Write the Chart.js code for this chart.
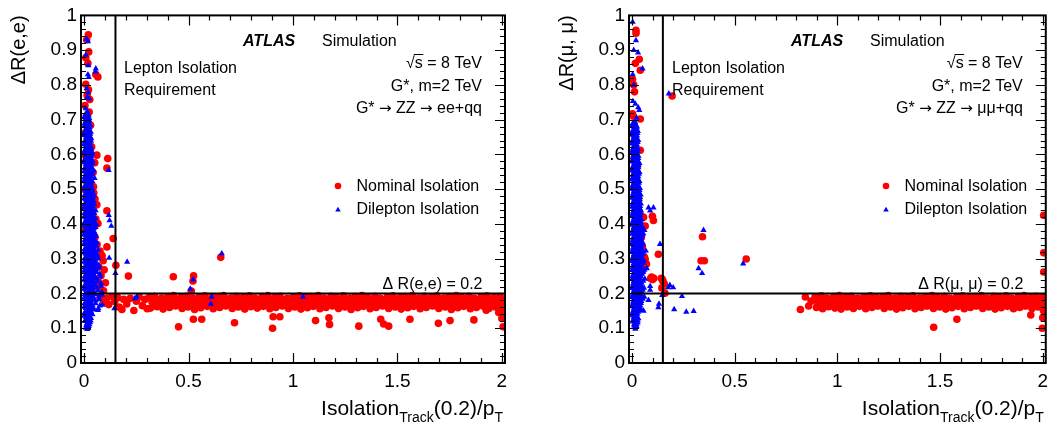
<!DOCTYPE html>
<html>
<head>
<meta charset="utf-8">
<script src="https://cdn.jsdelivr.net/npm/chart.js@4.4.1/dist/chart.umd.min.js"></script>
<style>
  html, body { margin: 0; padding: 0; background: #fff; }
  #wrap { position: relative; width: 1055px; height: 425px; overflow: hidden; }
  canvas { position: absolute; top: 0; }
  #cEE { left: 0; }
  #cMM { left: 529px; }
</style>
</head>
<body>
<div id="wrap">
  <canvas id="cEE" width="527" height="425"></canvas>
  <canvas id="cMM" width="526" height="425"></canvas>
</div>
<script>
// ---- axes ----
const xTicks = [0, 0.5, 1, 1.5, 2];
const yTicks = [0, 0.1, 0.2, 0.3, 0.4, 0.5, 0.6, 0.7, 0.8, 0.9, 1];
const xRange = [-0.015, 2.015];
const yRange = [0, 1];
const cutIso = 0.15;   // lepton isolation requirement
const cutDR = 0.2;     // delta R(l,l) = 0.2

// ---- ee channel: nominal isolation (red) ----
const eeNominal = [
  [0.020,0.944],[0.012,0.930],[0.022,0.895],[0.008,0.878],[0.018,0.862],[0.056,0.830],[0.066,0.823],
  [0.008,0.802],[0.021,0.786],[0.014,0.770],[0.027,0.758],[0.004,0.741],[0.024,0.722],[0.011,0.703],
  [0.031,0.684],[0.006,0.663],[0.021,0.641],[0.036,0.622],[0.061,0.598],[0.113,0.588],[0.051,0.576],
  [0.109,0.561],[0.043,0.548],[0.045,0.507],[0.046,0.490],[0.052,0.472],[0.061,0.455],[0.109,0.438],
  [0.041,0.431],[0.056,0.414],[0.066,0.401],[0.036,0.389],[0.139,0.358],[0.052,0.362],[0.062,0.341],
  [0.109,0.334],[0.076,0.322],[0.086,0.309],[0.046,0.301],[0.091,0.294],[0.152,0.281],[0.071,0.276],
  [0.096,0.268],[0.212,0.250],[0.081,0.252],[0.066,0.240],[0.102,0.231],[0.072,0.221],[0.093,0.208],
  [0.001,0.600],[0.000,0.500],[0.001,0.450],[0.000,0.380],[0.030,0.330],[0.040,0.270],[0.050,0.220],
  [0.427,0.248],[0.524,0.251],[0.521,0.236],[0.654,0.304],[0.513,0.207],
  [0.078,0.190],[0.094,0.176],[0.108,0.186],[0.118,0.168],[0.133,0.191],[0.146,0.177],[0.161,0.188],
  [0.168,0.161],[0.181,0.154],[0.190,0.183],[0.204,0.170],[0.221,0.186],[0.238,0.151],[0.250,0.178],
  [0.264,0.190],[0.279,0.165],[0.291,0.183],[0.302,0.156],
  [0.452,0.104],[0.523,0.126],[0.563,0.126],[0.720,0.116],[0.905,0.133],[0.902,0.100],[0.937,0.133],
  [1.108,0.122],[1.172,0.130],[1.175,0.111],[1.315,0.106],[1.420,0.126],[1.434,0.112],[1.458,0.106],
  [1.560,0.126],[1.696,0.114],[1.752,0.122],[1.866,0.124],[1.925,0.152],[2.000,0.128],[2.006,0.104],
  [2.006,0.185],[2.007,0.168],[2.004,0.152],[1.985,0.145]
];
const eeNominalBand = [
  [0.312,0.189],[0.338,0.192],[0.371,0.187],[0.402,0.191],[0.428,0.194],[0.463,0.188],[0.489,0.192],
  [0.522,0.186],[0.551,0.190],[0.579,0.193],[0.612,0.188],[0.641,0.191],[0.668,0.194],[0.703,0.187],
  [0.729,0.192],[0.762,0.189],[0.791,0.193],[0.818,0.187],[0.852,0.191],[0.879,0.194],[0.911,0.188],
  [0.938,0.192],[0.972,0.186],[1.001,0.190],[1.029,0.193],[1.062,0.188],[1.088,0.191],[1.121,0.194],
  [1.149,0.187],[1.182,0.192],[1.208,0.189],[1.241,0.193],[1.272,0.187],[1.298,0.191],[1.331,0.194],
  [1.359,0.188],[1.392,0.192],[1.418,0.186],[1.451,0.190],[1.479,0.193],[1.512,0.188],[1.538,0.191],
  [1.571,0.194],[1.602,0.187],[1.628,0.192],[1.661,0.189],[1.689,0.193],[1.722,0.187],[1.748,0.191],
  [1.781,0.194],[1.809,0.188],[1.842,0.192],[1.868,0.186],[1.901,0.190],[1.929,0.193],[1.962,0.188],
  [1.991,0.191],
  [0.325,0.176],[0.354,0.172],[0.386,0.179],[0.415,0.174],[0.446,0.171],[0.476,0.178],[0.505,0.173],
  [0.536,0.177],[0.565,0.170],[0.596,0.175],[0.625,0.179],[0.655,0.172],[0.686,0.176],[0.716,0.171],
  [0.745,0.178],[0.776,0.174],[0.805,0.170],[0.836,0.177],[0.865,0.173],[0.896,0.179],[0.925,0.172],
  [0.956,0.176],[0.985,0.171],[1.016,0.178],[1.045,0.174],[1.075,0.170],[1.106,0.177],[1.135,0.173],
  [1.166,0.179],[1.195,0.172],[1.226,0.176],[1.255,0.171],[1.285,0.178],[1.316,0.174],[1.345,0.170],
  [1.376,0.177],[1.405,0.173],[1.436,0.179],[1.465,0.172],[1.496,0.176],[1.525,0.171],[1.556,0.178],
  [1.585,0.174],[1.616,0.170],[1.645,0.177],[1.676,0.173],[1.705,0.179],[1.736,0.172],[1.765,0.176],
  [1.796,0.171],[1.825,0.178],[1.856,0.174],[1.885,0.170],[1.916,0.177],[1.945,0.173],[1.976,0.179],
  [2.004,0.175],
  [0.318,0.158],[0.349,0.162],[0.378,0.155],[0.409,0.160],[0.438,0.164],[0.469,0.157],[0.498,0.161],
  [0.529,0.154],[0.558,0.159],[0.589,0.163],[0.618,0.156],[0.649,0.160],[0.678,0.164],[0.709,0.157],
  [0.738,0.161],[0.769,0.155],[0.798,0.162],[0.829,0.158],[0.858,0.163],[0.889,0.156],[0.918,0.160],
  [0.949,0.164],[0.978,0.157],[1.009,0.161],[1.038,0.155],[1.069,0.159],[1.098,0.163],[1.129,0.156],
  [1.158,0.160],[1.189,0.164],[1.218,0.157],[1.249,0.161],[1.278,0.154],[1.309,0.159],[1.338,0.163],
  [1.369,0.156],[1.398,0.160],[1.429,0.164],[1.458,0.157],[1.489,0.161],[1.518,0.155],[1.549,0.159],
  [1.578,0.163],[1.609,0.156],[1.638,0.160],[1.669,0.164],[1.698,0.157],[1.729,0.161],[1.758,0.154],
  [1.789,0.159],[1.818,0.163],[1.849,0.156],[1.878,0.160],[1.909,0.164],[1.938,0.157],[1.969,0.161],
  [1.998,0.155]
];
const eeNominalBand2 = [
  [0.330,0.183],[0.361,0.181],[0.392,0.185],[0.421,0.182],[0.452,0.184],[0.481,0.181],[0.512,0.185],
  [0.543,0.182],[0.572,0.184],[0.603,0.181],[0.632,0.185],[0.662,0.182],[0.693,0.184],[0.722,0.181],
  [0.753,0.185],[0.783,0.182],[0.812,0.184],[0.843,0.181],[0.872,0.185],[0.902,0.182],[0.933,0.184],
  [0.962,0.181],[0.993,0.185],[1.023,0.182],[1.052,0.184],[1.083,0.181],[1.112,0.185],[1.142,0.182],
  [1.173,0.184],[1.202,0.181],[1.233,0.185],[1.263,0.182],[1.292,0.184],[1.323,0.181],[1.352,0.185],
  [1.382,0.182],[1.413,0.184],[1.442,0.181],[1.473,0.185],[1.503,0.182],[1.532,0.184],[1.563,0.181],
  [1.592,0.185],[1.622,0.182],[1.653,0.184],[1.682,0.181],[1.713,0.185],[1.743,0.182],[1.772,0.184],
  [1.803,0.181],[1.832,0.185],[1.862,0.182],[1.893,0.184],[1.922,0.181],[1.953,0.185],[1.983,0.182],
  [0.340,0.167],[0.369,0.165],[0.400,0.169],[0.431,0.166],[0.460,0.168],[0.491,0.165],[0.520,0.169],
  [0.550,0.166],[0.581,0.168],[0.610,0.165],[0.641,0.169],[0.671,0.166],[0.700,0.168],[0.731,0.165],
  [0.760,0.169],[0.790,0.166],[0.821,0.168],[0.850,0.165],[0.881,0.169],[0.911,0.166],[0.940,0.168],
  [0.971,0.165],[1.000,0.169],[1.030,0.166],[1.061,0.168],[1.090,0.165],[1.121,0.169],[1.151,0.166],
  [1.180,0.168],[1.211,0.165],[1.240,0.169],[1.270,0.166],[1.301,0.168],[1.330,0.165],[1.361,0.169],
  [1.391,0.166],[1.420,0.168],[1.451,0.165],[1.480,0.169],[1.510,0.166],[1.541,0.168],[1.570,0.165],
  [1.601,0.169],[1.631,0.166],[1.660,0.168],[1.691,0.165],[1.720,0.169],[1.750,0.166],[1.781,0.168],
  [1.810,0.165],[1.841,0.169],[1.871,0.166],[1.900,0.168],[1.931,0.165],[1.960,0.169],[1.990,0.166]
];

// ---- ee channel: dilepton isolation (blue) ----
const eeDilepton = [
  [0.012,0.932],[0.018,0.925],[0.008,0.886],[0.020,0.856],[0.056,0.847],[0.054,0.838],[0.018,0.830],
  [0.022,0.822],[0.012,0.790],[0.020,0.778],[0.015,0.765],[0.025,0.760],[0.008,0.732],[0.016,0.722],
  [0.022,0.712],[0.050,0.532],[0.117,0.555],[0.118,0.425],[0.122,0.410],[0.130,0.394],[0.120,0.302],
  [0.206,0.291],[0.150,0.258],[0.145,0.157],[0.066,0.152],[0.088,0.167],[0.252,0.190],[0.243,0.186],
  [0.522,0.240],[0.508,0.213],[0.659,0.315],[0.611,0.190],[0.606,0.170],[1.048,0.190]
];
const eeDileptonCore = [
  [0.006,0.716],[0.019,0.713],[0.012,0.701],[0.025,0.698],[0.003,0.689],[0.017,0.687],[0.030,0.684],
  [0.010,0.676],[0.023,0.673],[0.002,0.663],[0.015,0.661],[0.029,0.659],[0.009,0.650],[0.021,0.648],
  [0.034,0.646],[0.002,0.637],[0.014,0.636],[0.027,0.634],[0.008,0.624],[0.020,0.622],[0.033,0.621],
  [0.003,0.611],[0.015,0.609],[0.027,0.608],[0.039,0.606],[0.009,0.598],[0.021,0.596],[0.034,0.594],
  [0.002,0.585],[0.014,0.584],[0.026,0.582],[0.041,0.580],[0.008,0.572],[0.020,0.570],[0.032,0.569],
  [0.003,0.560],[0.015,0.558],[0.027,0.556],[0.045,0.555],[0.009,0.547],[0.021,0.545],[0.034,0.543],
  [0.002,0.534],[0.014,0.532],[0.026,0.531],[0.008,0.521],[0.020,0.519],[0.032,0.518],[0.003,0.508],
  [0.015,0.506],[0.027,0.505],[0.039,0.503],[0.009,0.495],[0.021,0.493],[0.033,0.492],[0.002,0.482],
  [0.014,0.480],[0.026,0.479],[0.042,0.477],[0.008,0.470],[0.020,0.468],[0.032,0.466],[0.046,0.465],
  [0.003,0.457],[0.015,0.455],[0.027,0.454],[0.040,0.452],[0.009,0.444],[0.021,0.442],[0.034,0.441],
  [0.055,0.439],[0.002,0.431],[0.014,0.430],[0.026,0.428],[0.038,0.426],[0.008,0.418],[0.020,0.417],
  [0.032,0.415],[0.046,0.413],[0.003,0.405],[0.015,0.404],[0.027,0.402],[0.040,0.400],[0.058,0.399],
  [0.009,0.392],[0.021,0.391],[0.034,0.389],[0.047,0.387],[0.002,0.379],[0.014,0.378],[0.026,0.376],
  [0.039,0.374],[0.052,0.373],[0.008,0.366],[0.020,0.365],[0.032,0.363],[0.045,0.361],[0.003,0.353],
  [0.015,0.352],[0.027,0.350],[0.040,0.348],[0.060,0.347],[0.009,0.340],[0.021,0.339],[0.034,0.337],
  [0.047,0.335],[0.002,0.327],[0.014,0.326],[0.026,0.324],[0.039,0.322],[0.055,0.321],[0.008,0.314],
  [0.020,0.313],[0.032,0.311],[0.045,0.309],[0.065,0.308],[0.003,0.301],[0.015,0.300],[0.027,0.298],
  [0.040,0.296],[0.053,0.295],[0.009,0.288],[0.021,0.287],[0.034,0.285],[0.047,0.283],[0.070,0.282],
  [0.002,0.275],[0.014,0.274],[0.026,0.272],[0.039,0.270],[0.058,0.269],[0.008,0.262],[0.020,0.261],
  [0.032,0.259],[0.045,0.257],[0.075,0.256],[0.003,0.249],[0.015,0.248],[0.027,0.246],[0.040,0.244],
  [0.060,0.243],[0.009,0.236],[0.021,0.235],[0.034,0.233],[0.050,0.231],[0.080,0.230],[0.002,0.223],
  [0.014,0.222],[0.026,0.220],[0.039,0.218],[0.062,0.217],[0.008,0.210],[0.020,0.209],[0.032,0.207],
  [0.048,0.205],[0.085,0.204],[0.003,0.197],[0.015,0.196],[0.027,0.194],[0.042,0.192],[0.070,0.191],
  [0.009,0.184],[0.021,0.183],[0.034,0.181],[0.055,0.179],[0.002,0.171],[0.014,0.170],[0.026,0.168],
  [0.040,0.166],[0.075,0.165],[0.008,0.158],[0.020,0.157],[0.032,0.155],[0.050,0.153],[0.003,0.145],
  [0.015,0.144],[0.027,0.142],[0.040,0.140],[0.009,0.132],[0.021,0.131],[0.033,0.129],[0.005,0.120],
  [0.017,0.118],[0.028,0.117],[0.010,0.108],[0.022,0.106],[0.015,0.097]
];
const eeDileptonFill = [
  [0.000,0.707],[0.013,0.706],[0.024,0.704],[0.006,0.694],[0.020,0.692],[0.000,0.681],[0.012,0.680],
  [0.025,0.678],[0.006,0.668],[0.020,0.667],[0.032,0.665],[0.000,0.655],[0.013,0.654],[0.027,0.652],
  [0.006,0.642],[0.020,0.641],[0.033,0.639],[0.000,0.629],[0.013,0.628],[0.026,0.627],[0.006,0.616],
  [0.020,0.615],[0.034,0.614],[0.000,0.603],[0.013,0.602],[0.027,0.601],[0.040,0.600],[0.006,0.590],
  [0.020,0.589],[0.034,0.588],[0.000,0.577],[0.013,0.576],[0.027,0.575],[0.040,0.574],[0.006,0.564],
  [0.020,0.563],[0.034,0.562],[0.000,0.551],[0.013,0.550],[0.027,0.549],[0.040,0.548],[0.006,0.538],
  [0.020,0.537],[0.034,0.536],[0.000,0.525],[0.013,0.524],[0.027,0.523],[0.040,0.522],[0.006,0.512],
  [0.020,0.511],[0.034,0.510],[0.000,0.499],[0.013,0.498],[0.027,0.497],[0.040,0.496],[0.006,0.486],
  [0.020,0.485],[0.034,0.484],[0.048,0.483],[0.000,0.473],[0.013,0.472],[0.027,0.471],[0.040,0.470],
  [0.006,0.460],[0.020,0.459],[0.034,0.458],[0.048,0.457],[0.000,0.447],[0.013,0.446],[0.027,0.445],
  [0.041,0.444],[0.006,0.434],[0.020,0.433],[0.034,0.432],[0.048,0.431],[0.000,0.421],[0.013,0.420],
  [0.027,0.419],[0.041,0.418],[0.053,0.417],[0.006,0.408],[0.020,0.407],[0.034,0.406],[0.048,0.405],
  [0.000,0.395],[0.013,0.394],[0.027,0.393],[0.041,0.392],[0.055,0.391],[0.006,0.382],[0.020,0.381],
  [0.034,0.380],[0.047,0.379],[0.000,0.369],[0.013,0.368],[0.027,0.367],[0.041,0.366],[0.056,0.365],
  [0.006,0.356],[0.020,0.355],[0.034,0.354],[0.048,0.353],[0.000,0.343],[0.013,0.342],[0.027,0.341],
  [0.041,0.340],[0.058,0.339],[0.006,0.330],[0.020,0.329],[0.034,0.328],[0.048,0.327],[0.066,0.326],
  [0.000,0.317],[0.013,0.316],[0.027,0.315],[0.041,0.314],[0.056,0.313],[0.006,0.304],[0.020,0.303],
  [0.034,0.302],[0.048,0.301],[0.068,0.300],[0.000,0.291],[0.013,0.290],[0.027,0.289],[0.041,0.288],
  [0.058,0.287],[0.006,0.278],[0.020,0.277],[0.034,0.276],[0.048,0.275],[0.072,0.274],[0.000,0.265],
  [0.013,0.264],[0.027,0.263],[0.041,0.262],[0.060,0.261],[0.006,0.252],[0.020,0.251],[0.034,0.250],
  [0.050,0.249],[0.078,0.248],[0.000,0.239],[0.013,0.238],[0.027,0.237],[0.041,0.236],[0.064,0.235],
  [0.006,0.226],[0.020,0.225],[0.034,0.224],[0.050,0.223],[0.082,0.222],[0.000,0.213],[0.013,0.212],
  [0.027,0.211],[0.041,0.210],[0.066,0.209],[0.006,0.200],[0.020,0.199],[0.034,0.198],[0.055,0.197],
  [0.086,0.196],[0.000,0.187],[0.013,0.186],[0.027,0.185],[0.045,0.184],[0.072,0.183],[0.006,0.174],
  [0.020,0.173],[0.034,0.172],[0.055,0.171],[0.000,0.161],[0.013,0.160],[0.027,0.159],[0.042,0.158],
  [0.068,0.157],[0.006,0.148],[0.020,0.147],[0.034,0.146],[0.000,0.135],[0.013,0.134],[0.027,0.133],
  [0.006,0.124],[0.020,0.123],[0.031,0.122],[0.012,0.112],[0.025,0.111],[0.008,0.101],[0.020,0.100]
];

// ---- mumu channel: nominal isolation (red) ----
const mmNominal = [
  [0.019,0.957],[0.019,0.949],[0.035,0.874],[0.016,0.862],[0.040,0.842],[0.002,0.816],[0.008,0.800],
  [0.012,0.780],[0.002,0.717],[0.006,0.710],[0.040,0.702],[0.004,0.660],[0.040,0.612],[0.010,0.590],
  [0.025,0.564],[0.012,0.540],[0.020,0.500],[0.051,0.420],[0.099,0.422],[0.056,0.419],[0.104,0.410],
  [0.064,0.394],[0.032,0.468],[0.040,0.349],[0.050,0.336],[0.045,0.362],[0.128,0.313],[0.064,0.298],
  [0.070,0.285],[0.060,0.305],[0.095,0.247],[0.100,0.240],[0.106,0.244],[0.090,0.243],[0.142,0.244],
  [0.150,0.236],[0.157,0.228],[0.145,0.216],[0.160,0.201],[0.148,0.240],[0.343,0.363],[0.336,0.294],
  [0.352,0.294],[0.556,0.299],[0.195,0.768],[0.045,0.260],[0.055,0.280],
  [0.820,0.154],[0.844,0.190],[0.860,0.164],[0.872,0.178],
  [1.469,0.103],[1.582,0.126],[1.942,0.138],[1.998,0.100],[2.005,0.425],[2.005,0.317],[2.005,0.262],
  [2.004,0.150],[2.000,0.130]
];
const mmNominalBand = [
  [0.891,0.190],[0.921,0.193],[0.948,0.187],[0.981,0.191],[1.009,0.194],[1.041,0.188],[1.068,0.192],
  [1.101,0.186],[1.129,0.190],[1.161,0.193],[1.189,0.188],[1.221,0.191],[1.248,0.194],[1.281,0.187],
  [1.309,0.192],[1.341,0.189],[1.368,0.193],[1.401,0.187],[1.429,0.191],[1.461,0.194],[1.489,0.188],
  [1.521,0.192],[1.548,0.186],[1.581,0.190],[1.609,0.193],[1.641,0.188],[1.668,0.191],[1.701,0.194],
  [1.729,0.187],[1.761,0.192],[1.789,0.189],[1.821,0.193],[1.848,0.187],[1.881,0.191],[1.909,0.194],
  [1.941,0.188],[1.968,0.192],[1.999,0.189],
  [0.905,0.175],[0.935,0.171],[0.965,0.178],[0.995,0.173],[1.025,0.177],[1.055,0.170],[1.085,0.176],
  [1.115,0.179],[1.145,0.172],[1.175,0.176],[1.205,0.171],[1.235,0.178],[1.265,0.174],[1.295,0.170],
  [1.325,0.177],[1.355,0.173],[1.385,0.179],[1.415,0.172],[1.445,0.176],[1.475,0.171],[1.505,0.178],
  [1.535,0.174],[1.565,0.170],[1.595,0.177],[1.625,0.173],[1.655,0.179],[1.685,0.172],[1.715,0.176],
  [1.745,0.171],[1.775,0.178],[1.805,0.174],[1.835,0.170],[1.865,0.177],[1.895,0.173],[1.925,0.179],
  [1.955,0.172],[1.985,0.176],[2.007,0.171],
  [0.898,0.160],[0.928,0.156],[0.958,0.162],[0.988,0.158],[1.018,0.155],[1.048,0.161],[1.078,0.157],
  [1.108,0.163],[1.138,0.156],[1.168,0.160],[1.198,0.164],[1.228,0.157],[1.258,0.161],[1.288,0.155],
  [1.318,0.159],[1.348,0.163],[1.378,0.156],[1.408,0.160],[1.438,0.164],[1.468,0.157],[1.498,0.161],
  [1.528,0.155],[1.558,0.159],[1.588,0.163],[1.618,0.156],[1.648,0.160],[1.678,0.164],[1.708,0.157],
  [1.738,0.161],[1.768,0.155],[1.798,0.159],[1.828,0.163],[1.858,0.156],[1.888,0.160],[1.918,0.164],
  [1.948,0.157],[1.978,0.161],[2.004,0.156]
];
const mmNominalBand2 = [
  [0.913,0.183],[0.942,0.181],[0.973,0.185],[1.003,0.182],[1.032,0.184],[1.063,0.181],[1.092,0.185],
  [1.122,0.182],[1.153,0.184],[1.182,0.181],[1.213,0.185],[1.243,0.182],[1.272,0.184],[1.303,0.181],
  [1.332,0.185],[1.362,0.182],[1.393,0.184],[1.422,0.181],[1.453,0.185],[1.483,0.182],[1.512,0.184],
  [1.543,0.181],[1.572,0.185],[1.602,0.182],[1.633,0.184],[1.662,0.181],[1.693,0.185],[1.723,0.182],
  [1.752,0.184],[1.783,0.181],[1.812,0.185],[1.842,0.182],[1.873,0.184],[1.902,0.181],[1.933,0.185],
  [1.963,0.182],[1.992,0.184],
  [0.920,0.167],[0.951,0.165],[0.980,0.169],[1.010,0.166],[1.041,0.168],[1.070,0.165],[1.101,0.169],
  [1.131,0.166],[1.160,0.168],[1.191,0.165],[1.220,0.169],[1.250,0.166],[1.281,0.168],[1.310,0.165],
  [1.341,0.169],[1.371,0.166],[1.400,0.168],[1.431,0.165],[1.460,0.169],[1.490,0.166],[1.521,0.168],
  [1.550,0.165],[1.581,0.169],[1.611,0.166],[1.640,0.168],[1.671,0.165],[1.700,0.169],[1.730,0.166],
  [1.761,0.168],[1.790,0.165],[1.821,0.169],[1.851,0.166],[1.880,0.168],[1.911,0.165],[1.940,0.169],
  [1.970,0.166],[2.001,0.168]
];

// ---- mumu channel: dilepton isolation (blue) ----
const mmDilepton = [
  [0.003,0.981],[0.019,0.928],[0.008,0.900],[0.029,0.893],[0.051,0.847],[0.003,0.830],[0.008,0.800],
  [0.004,0.753],[0.016,0.745],[0.035,0.727],[0.015,0.693],[0.030,0.735],[0.022,0.705],[0.179,0.775],
  [0.080,0.447],[0.104,0.447],[0.088,0.438],[0.348,0.382],[0.136,0.342],[0.067,0.323],[0.324,0.272],
  [0.341,0.258],[0.541,0.286],[0.072,0.272],[0.184,0.224],[0.200,0.217],[0.176,0.217],[0.243,0.192],
  [0.205,0.154],[0.264,0.147],[0.300,0.149],[0.131,0.170],[0.128,0.160],[0.080,0.181],[0.056,0.150],
  [0.088,0.210],[0.147,0.195],[0.088,0.221],[0.060,0.382]
];
const mmDileptonCore = [
  [0.004,0.690],[0.016,0.688],[0.009,0.677],[0.022,0.675],[0.002,0.664],[0.014,0.662],[0.026,0.661],
  [0.008,0.651],[0.020,0.649],[0.003,0.638],[0.015,0.636],[0.027,0.635],[0.009,0.625],[0.021,0.623],
  [0.002,0.612],[0.014,0.610],[0.026,0.609],[0.008,0.599],[0.020,0.597],[0.031,0.596],[0.003,0.586],
  [0.015,0.584],[0.027,0.583],[0.009,0.573],[0.021,0.571],[0.032,0.570],[0.002,0.560],[0.014,0.558],
  [0.026,0.557],[0.008,0.547],[0.020,0.545],[0.033,0.544],[0.003,0.534],[0.015,0.532],[0.027,0.531],
  [0.009,0.521],[0.021,0.519],[0.033,0.518],[0.002,0.508],[0.014,0.506],[0.026,0.505],[0.038,0.503],
  [0.008,0.495],[0.020,0.493],[0.032,0.492],[0.003,0.482],[0.015,0.480],[0.027,0.479],[0.039,0.477],
  [0.009,0.469],[0.021,0.467],[0.033,0.466],[0.002,0.456],[0.014,0.454],[0.026,0.453],[0.039,0.451],
  [0.008,0.443],[0.020,0.441],[0.032,0.440],[0.044,0.438],[0.003,0.430],[0.015,0.428],[0.027,0.427],
  [0.040,0.425],[0.009,0.417],[0.021,0.415],[0.033,0.414],[0.046,0.412],[0.002,0.404],[0.014,0.402],
  [0.026,0.401],[0.039,0.399],[0.008,0.391],[0.020,0.389],[0.032,0.388],[0.045,0.386],[0.003,0.378],
  [0.015,0.376],[0.027,0.375],[0.040,0.373],[0.055,0.372],[0.009,0.365],[0.021,0.363],[0.033,0.362],
  [0.046,0.360],[0.002,0.352],[0.014,0.350],[0.026,0.349],[0.039,0.347],[0.052,0.346],[0.008,0.339],
  [0.020,0.337],[0.032,0.336],[0.045,0.334],[0.003,0.326],[0.015,0.324],[0.027,0.323],[0.040,0.321],
  [0.056,0.320],[0.009,0.313],[0.021,0.311],[0.033,0.310],[0.046,0.308],[0.002,0.300],[0.014,0.298],
  [0.026,0.297],[0.039,0.295],[0.058,0.294],[0.008,0.287],[0.020,0.285],[0.032,0.284],[0.045,0.282],
  [0.003,0.274],[0.015,0.272],[0.027,0.271],[0.040,0.269],[0.060,0.268],[0.009,0.261],[0.021,0.259],
  [0.033,0.258],[0.047,0.256],[0.002,0.248],[0.014,0.246],[0.026,0.245],[0.039,0.243],[0.062,0.242],
  [0.008,0.235],[0.020,0.233],[0.032,0.232],[0.046,0.230],[0.003,0.222],[0.015,0.220],[0.027,0.219],
  [0.040,0.217],[0.058,0.216],[0.009,0.209],[0.021,0.207],[0.033,0.206],[0.048,0.204],[0.002,0.196],
  [0.014,0.194],[0.026,0.193],[0.040,0.191],[0.060,0.190],[0.008,0.183],[0.020,0.181],[0.032,0.180],
  [0.045,0.178],[0.003,0.170],[0.015,0.168],[0.027,0.167],[0.040,0.165],[0.009,0.157],[0.021,0.155],
  [0.033,0.154],[0.046,0.152],[0.002,0.144],[0.014,0.142],[0.026,0.141],[0.008,0.131],[0.020,0.129],
  [0.031,0.128],[0.004,0.119],[0.016,0.117],[0.027,0.116],[0.010,0.107],[0.022,0.105],[0.016,0.098]
];
const mmDileptonFill = [
  [0.000,0.683],[0.012,0.682],[0.024,0.680],[0.005,0.670],[0.018,0.669],[0.028,0.667],[0.000,0.657],
  [0.012,0.656],[0.024,0.654],[0.005,0.644],[0.018,0.643],[0.030,0.641],[0.000,0.631],[0.012,0.630],
  [0.024,0.628],[0.005,0.618],[0.018,0.617],[0.030,0.615],[0.000,0.605],[0.012,0.604],[0.024,0.602],
  [0.005,0.592],[0.018,0.591],[0.030,0.589],[0.000,0.579],[0.012,0.578],[0.024,0.576],[0.036,0.575],
  [0.005,0.566],[0.018,0.565],[0.030,0.563],[0.000,0.553],[0.012,0.552],[0.024,0.550],[0.036,0.549],
  [0.005,0.540],[0.018,0.539],[0.030,0.537],[0.000,0.527],[0.012,0.526],[0.024,0.524],[0.036,0.523],
  [0.005,0.514],[0.018,0.513],[0.030,0.511],[0.000,0.501],[0.012,0.500],[0.024,0.498],[0.036,0.497],
  [0.005,0.488],[0.018,0.487],[0.030,0.485],[0.042,0.484],[0.000,0.475],[0.012,0.474],[0.024,0.472],
  [0.036,0.471],[0.005,0.462],[0.018,0.461],[0.030,0.459],[0.043,0.458],[0.000,0.449],[0.012,0.448],
  [0.024,0.446],[0.037,0.445],[0.005,0.436],[0.018,0.435],[0.030,0.433],[0.043,0.432],[0.000,0.423],
  [0.012,0.422],[0.024,0.420],[0.037,0.419],[0.005,0.410],[0.018,0.409],[0.030,0.407],[0.043,0.406],
  [0.000,0.397],[0.012,0.396],[0.024,0.394],[0.037,0.393],[0.050,0.392],[0.005,0.384],[0.018,0.383],
  [0.030,0.381],[0.043,0.380],[0.000,0.371],[0.012,0.370],[0.024,0.368],[0.037,0.367],[0.050,0.366],
  [0.005,0.358],[0.018,0.357],[0.030,0.355],[0.043,0.354],[0.000,0.345],[0.012,0.344],[0.024,0.342],
  [0.037,0.341],[0.052,0.340],[0.005,0.332],[0.018,0.331],[0.030,0.329],[0.043,0.328],[0.000,0.319],
  [0.012,0.318],[0.024,0.316],[0.037,0.315],[0.052,0.314],[0.005,0.306],[0.018,0.305],[0.030,0.303],
  [0.043,0.302],[0.000,0.293],[0.012,0.292],[0.024,0.290],[0.037,0.289],[0.054,0.288],[0.005,0.280],
  [0.018,0.279],[0.030,0.277],[0.043,0.276],[0.000,0.267],[0.012,0.266],[0.024,0.264],[0.037,0.263],
  [0.055,0.262],[0.005,0.254],[0.018,0.253],[0.030,0.251],[0.043,0.250],[0.000,0.241],[0.012,0.240],
  [0.024,0.238],[0.037,0.237],[0.054,0.236],[0.005,0.228],[0.018,0.227],[0.030,0.225],[0.043,0.224],
  [0.000,0.215],[0.012,0.214],[0.024,0.212],[0.037,0.211],[0.052,0.210],[0.005,0.202],[0.018,0.201],
  [0.030,0.199],[0.043,0.198],[0.000,0.189],[0.012,0.188],[0.024,0.186],[0.037,0.185],[0.052,0.184],
  [0.005,0.176],[0.018,0.175],[0.030,0.173],[0.043,0.172],[0.000,0.163],[0.012,0.162],[0.024,0.160],
  [0.037,0.159],[0.005,0.150],[0.018,0.149],[0.030,0.147],[0.000,0.137],[0.012,0.136],[0.024,0.134],
  [0.005,0.124],[0.018,0.123],[0.028,0.122],[0.010,0.112],[0.022,0.111],[0.012,0.102]
];

const FONT = '"Liberation Sans", Arial, Helvetica, sans-serif';
const ARROW_FONT = '"DejaVu Sans", sans-serif';
const RED = '#ff0000';
const BLUE = '#0000ff';

function drawTriangle(ctx, x, y, r) {
  ctx.beginPath();
  ctx.moveTo(x, y - r);
  ctx.lineTo(x + r * 0.866, y + r * 0.5);
  ctx.lineTo(x - r * 0.866, y + r * 0.5);
  ctx.closePath();
  ctx.fill();
}

// text made of pieces in different fonts, right aligned at xr
function richRight(ctx, segs, xr, y) {
  let w = 0;
  segs.forEach(s => { ctx.font = s[1]; w += ctx.measureText(s[0]).width; });
  let x = xr - w;
  ctx.textAlign = 'left';
  segs.forEach(s => { ctx.font = s[1]; ctx.fillText(s[0], x, y + (s[2] || 0)); x += ctx.measureText(s[0]).width; });
}

// ROOT-like frame, inner ticks and all the text of a panel
const rootFrame = {
  id: 'rootFrame',
  afterDraw(chart, args, o) {
    const { ctx, chartArea: a } = chart;
    const xs = chart.scales.x, ys = chart.scales.y;
    ctx.save();
    ctx.strokeStyle = '#000';
    ctx.fillStyle = '#000';

    // ticks, inside on all four sides
    ctx.lineWidth = 1.2;
    ctx.beginPath();
    for (let i = 0; i <= 20; i++) {
      const px = Math.round(xs.getPixelForValue(i / 10)) + 0.5;
      const len = i % 5 === 0 ? 10 : 5;
      ctx.moveTo(px, a.bottom); ctx.lineTo(px, a.bottom - len);
      ctx.moveTo(px, a.top); ctx.lineTo(px, a.top + len);
    }
    for (let i = 0; i <= 50; i++) {
      const py = Math.round(ys.getPixelForValue(i / 50)) + 0.5;
      const len = i % 5 === 0 ? 10 : 5;
      ctx.moveTo(a.left, py); ctx.lineTo(a.left + len, py);
      ctx.moveTo(a.right, py); ctx.lineTo(a.right - len, py);
    }
    ctx.stroke();

    ctx.lineWidth = 2;
    ctx.strokeRect(a.left, a.top, a.right - a.left, a.bottom - a.top);

    ctx.textBaseline = 'alphabetic';

    // y title, rotated
    ctx.save();
    ctx.translate(a.left - 56, a.top);
    ctx.rotate(-Math.PI / 2);
    ctx.font = '20px ' + FONT;
    ctx.textAlign = 'right';
    ctx.fillText(o.yTitle, 0, 0);
    ctx.restore();

    // x title: Isolation_{Track}(0.2)/p_{T}
    const big = '21px ' + FONT, small = '14px ' + FONT;
    richRight(ctx, [['Isolation', big], ['Track', small, 6.5], ['(0.2)/p', big], ['T', small, 6.5]], a.right - 2, 415);

    // annotations
    const f16 = '16px ' + FONT;
    ctx.textAlign = 'left';
    ctx.font = f16;
    ctx.fillText('Lepton Isolation', a.left + 43, 73);
    ctx.fillText('Requirement', a.left + 43, 94.5);
    ctx.font = 'italic bold 16px ' + FONT;
    ctx.fillText('ATLAS', a.left + 162, 46);
    ctx.font = f16;
    ctx.fillText('Simulation', a.left + 241, 46);

    const rx = a.right - 23;
    ctx.textAlign = 'right';
    ctx.fillText('\u221As = 8 TeV', rx, 67.5);
    const wAll = ctx.measureText('\u221As = 8 TeV').width;
    const wRoot = ctx.measureText('\u221A').width;
    const wS = ctx.measureText('s').width;
    ctx.lineWidth = 1;
    ctx.beginPath();
    ctx.moveTo(rx - wAll + wRoot - 1, 54.5);
    ctx.lineTo(rx - wAll + wRoot + wS + 0.5, 54.5);
    ctx.stroke();
    ctx.fillText('G*, m=2 TeV', rx, 90.5);
    const arrow = '15px ' + ARROW_FONT;
    richRight(ctx, [['G* ', f16], ['\u2192', arrow], [' ZZ ', f16], ['\u2192', arrow], [' ' + o.channel, f16]], rx, 113);
    ctx.font = f16;
    ctx.textAlign = 'right';
    ctx.fillText(o.drLabel, a.right - 22.5, 288.5);

    // legend
    ctx.textAlign = 'left';
    ctx.fillText('Nominal Isolation', a.left + 275.5, 191);
    ctx.fillText('Dilepton Isolation', a.left + 275.5, 214);
    ctx.fillStyle = RED;
    ctx.beginPath();
    ctx.arc(a.left + 257, 186, 3.3, 0, Math.PI * 2);
    ctx.fill();
    ctx.fillStyle = BLUE;
    drawTriangle(ctx, a.left + 257, 210, 3.2);

    ctx.restore();
  }
};

function makePanel(id, p) {
  const toPts = arr => arr.map(d => ({ x: d[0], y: d[1] }));
  const tickFont = { family: FONT, size: 19 };
  return new Chart(document.getElementById(id), {
    type: 'scatter',
    data: {
      datasets: [
        {
          label: 'isolation cut', type: 'line', order: 0,
          data: [{ x: cutIso, y: yRange[0] }, { x: cutIso, y: yRange[1] }],
          borderColor: '#000', borderWidth: 2, pointRadius: 0, fill: false
        },
        {
          label: 'dR cut', type: 'line', order: 0,
          data: [{ x: p.drFrom, y: cutDR }, { x: xRange[1], y: cutDR }],
          borderColor: '#000', borderWidth: 2, pointRadius: 0, fill: false
        },
        {
          label: 'Dilepton Isolation', order: 1,
          data: toPts(p.dil),
          pointStyle: 'triangle', pointRadius: 3.6, backgroundColor: BLUE, borderWidth: 0
        },
        {
          label: 'Nominal Isolation', order: 2,
          data: toPts(p.nom),
          pointStyle: 'circle', pointRadius: 3.8, backgroundColor: RED, borderWidth: 0
        }
      ]
    },
    options: {
      responsive: false,
      animation: false,
      events: [],
      layout: { autoPadding: false, padding: { left: 0, top: 15, right: p.padRight, bottom: 0 } },
      plugins: {
        legend: { display: false },
        tooltip: { enabled: false },
        rootFrame: { yTitle: p.yTitle, channel: p.channel, drLabel: p.drLabel }
      },
      scales: {
        x: {
          type: 'linear', min: xRange[0], max: xRange[1],
          grid: { display: false, drawTicks: false },
          border: { display: false },
          ticks: { font: tickFont, color: '#000', padding: 7, maxRotation: 0, autoSkip: false, callback: v => String(v) },
          afterBuildTicks: s => { s.ticks = xTicks.map(v => ({ value: v })); },
          afterFit: s => { s.height = 62; }
        },
        y: {
          type: 'linear', min: yRange[0], max: yRange[1],
          grid: { display: false, drawTicks: false },
          border: { display: false },
          ticks: { font: tickFont, color: '#000', padding: 4, autoSkip: false, callback: v => String(v) },
          afterBuildTicks: s => { s.ticks = yTicks.map(v => ({ value: v })); },
          afterFit: s => { s.width = p.yWidth; }
        }
      }
    },
    plugins: [rootFrame]
  });
}

makePanel('cEE', {
  nom: eeNominal.concat(eeNominalBand, eeNominalBand2),
  dil: eeDilepton.concat(eeDileptonCore, eeDileptonFill),
  yTitle: '\u0394R(e,e)',
  channel: 'ee+qq',
  drLabel: '\u0394 R(e,e) = 0.2',
  drFrom: 0.01,
  yWidth: 81,
  padRight: 22
});

makePanel('cMM', {
  nom: mmNominal.concat(mmNominalBand, mmNominalBand2),
  dil: mmDilepton.concat(mmDileptonCore, mmDileptonFill),
  yTitle: '\u0394R(\u03BC, \u03BC)',
  channel: '\u03BC\u03BC+qq',
  drLabel: '\u0394 R(\u03BC, \u03BC) = 0.2',
  drFrom: 0.0,
  yWidth: 100,
  padRight: 3
});
</script>
</body>
</html>
